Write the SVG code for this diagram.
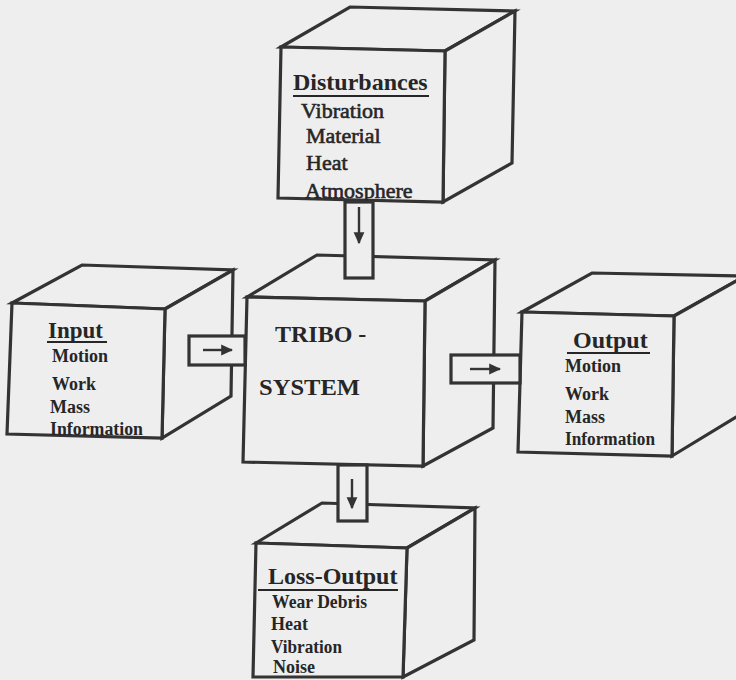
<svg xmlns="http://www.w3.org/2000/svg" width="736" height="680" viewBox="0 0 736 680">
<style>
.face{fill:#eeeeee;stroke:#333;stroke-width:3.2;stroke-linejoin:miter}
.conn{fill:#eeeeee;stroke:#333;stroke-width:3.2}
.arr{stroke:#333;stroke-width:2.4;fill:none}
.t{font-family:"Liberation Serif","Times New Roman",serif;fill:#262626}
.big{font-weight:bold;font-size:24px}
.li{font-weight:bold;font-size:18px}
.lr{font-size:22px;stroke:#262626;stroke-width:0.6}
.ul{stroke:#262626;stroke-width:2}
</style>
<defs>
<marker id="ah" viewBox="0 0 10 10" refX="9" refY="5" markerWidth="5" markerHeight="5" orient="auto" markerUnits="strokeWidth">
<path d="M0,0.5 L10,5 L0,9.5 z" fill="#333"/>
</marker>
</defs>
<rect width="736" height="680" fill="#eeeeee"/>

<g id="disturbances">
<polygon class="face" points="281,47 350,7 515,11 445,51"/>
<polygon class="face" points="445,51 515,11 512,163 443,202"/>
<polygon class="face" points="281,47 445,51 443,202 278,198"/>
<text class="t" x="293" y="90" font-weight="bold" font-size="24">Disturbances</text>
<line class="ul" x1="293" y1="96" x2="429" y2="96"/>
<text class="t lr" x="301" y="118">Vibration</text>
<text class="t lr" x="306" y="143">Material</text>
<text class="t lr" x="306" y="170">Heat</text>
<text class="t lr" x="305" y="198">Atmosphere</text>
</g>

<g id="input">
<polygon class="face" points="12,303 82,265 233,270 165,309"/>
<polygon class="face" points="165,309 233,270 231,396 162,438"/>
<polygon class="face" points="12,303 165,309 162,438 7,434"/>
<text class="t" x="48" y="338" font-weight="bold" font-size="23">Input</text>
<line class="ul" x1="47" y1="342" x2="107" y2="342"/>
<text class="t li" x="52" y="362">Motion</text>
<text class="t li" x="52" y="390">Work</text>
<text class="t li" x="50" y="413">Mass</text>
<text class="t li" x="50" y="435" textLength="93" lengthAdjust="spacingAndGlyphs">Information</text>
</g>

<g id="loss-output">
<polygon class="face" points="256,543 322,503 475,508 407,548"/>
<polygon class="face" points="407,548 475,508 474,640 403,677"/>
<polygon class="face" points="256,543 407,548 403,677 253,677"/>
<text class="t" x="268" y="584" font-weight="bold" font-size="24">Loss-Output</text>
<line class="ul" x1="258" y1="590" x2="398" y2="590"/>
<text class="t li" x="272" y="608" textLength="95" lengthAdjust="spacingAndGlyphs">Wear Debris</text>
<text class="t li" x="271" y="630">Heat</text>
<text class="t li" x="271" y="653" textLength="71" lengthAdjust="spacingAndGlyphs">Vibration</text>
<text class="t li" x="273" y="673">Noise</text>
</g>

<g id="output">
<polygon class="face" points="522,312 592,273 745,276 674,316"/>
<polygon class="face" points="674,316 745,276 743,413 672,456"/>
<polygon class="face" points="522,312 674,316 672,456 518,452"/>
<text class="t" x="573" y="348" font-weight="bold" font-size="24">Output</text>
<line class="ul" x1="567" y1="353" x2="650" y2="353"/>
<text class="t li" x="565" y="372">Motion</text>
<text class="t li" x="565" y="400">Work</text>
<text class="t li" x="565" y="423">Mass</text>
<text class="t li" x="565" y="445" textLength="90" lengthAdjust="spacingAndGlyphs">Information</text>
</g>

<g id="tribo-system">
<polygon class="face" points="247,297 317,255 495,260 425,301"/>
<polygon class="face" points="425,301 495,260 493,428 423,466"/>
<polygon class="face" points="247,297 425,301 423,466 243,462"/>
<text class="t big" x="275" y="342">TRIBO -</text>
<text class="t big" x="259" y="395" textLength="101" lengthAdjust="spacingAndGlyphs">SYSTEM</text>
</g>

<g id="connectors">
<rect class="conn" x="345" y="202" width="28" height="76"/>
<line class="arr" x1="359" y1="207" x2="359" y2="243" marker-end="url(#ah)"/>
<rect class="conn" x="189" y="336" width="56" height="29"/>
<line class="arr" x1="203" y1="350" x2="232" y2="350" marker-end="url(#ah)"/>
<rect class="conn" x="451" y="355" width="69" height="28"/>
<line class="arr" x1="470" y1="369" x2="500" y2="369" marker-end="url(#ah)"/>
<rect class="conn" x="338" y="465" width="29" height="56"/>
<line class="arr" x1="352" y1="479" x2="352" y2="508" marker-end="url(#ah)"/>
</g>
</svg>
